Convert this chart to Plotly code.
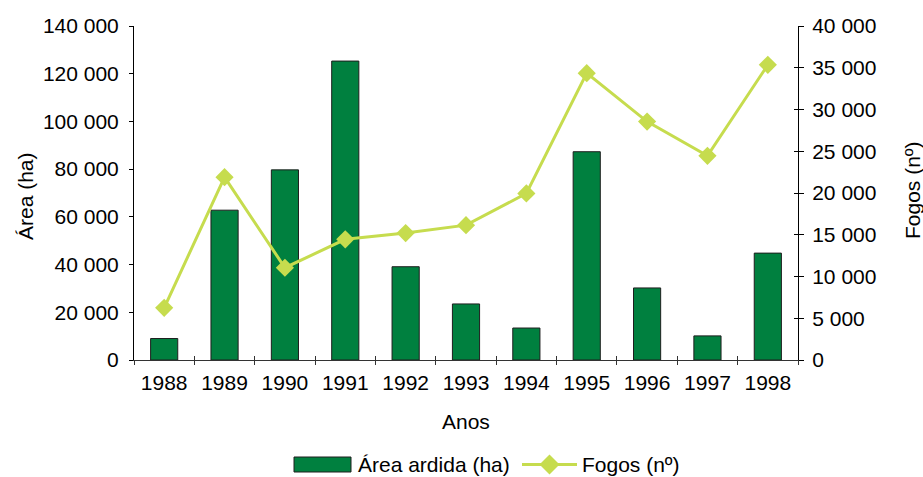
import plotly.graph_objects as go

# Burnt area (ha) and number of fires per year
anos = ["1988", "1989", "1990", "1991", "1992", "1993",
        "1994", "1995", "1996", "1997", "1998"]
area_ardida = [9000, 62800, 79700, 125300, 39100, 23500,
               13400, 87300, 30200, 10100, 44800]
fogos = [6250, 21900, 11050, 14450, 15200, 16150,
         19950, 34350, 28550, 24450, 35350]

area_ticks = [0, 20000, 40000, 60000, 80000, 100000, 120000, 140000]
fogos_ticks = [0, 5000, 10000, 15000, 20000, 25000, 30000, 35000, 40000]

BAR_GREEN = "#00803f"
LIME = "#c6dc4e"
FONT = "Liberation Sans, Arial, sans-serif"
FS = 21

W, H = 923, 477
ML, MR, MT, MB = 134, 125, 26, 117
PW, PH = W - ML - MR, H - MT - MB


def px(xp):
    return (xp - ML) / PW


def py(yp):
    return (H - MB - yp) / PH


fig = go.Figure()

fig.add_trace(go.Bar(
    x=anos, y=area_ardida, name="Área ardida (ha)",
    marker=dict(color=BAR_GREEN, line=dict(color="#1e1e1e", width=1)),
    width=0.45, showlegend=False,
))

fig.add_trace(go.Scatter(
    x=anos, y=fogos, name="Fogos (nº)", yaxis="y2",
    mode="lines+markers",
    line=dict(color=LIME, width=3),
    marker=dict(symbol="diamond", size=14, color=LIME),
    showlegend=False,
))

# empty helper traces so the overlay axes (inner tick marks) are drawn
fig.add_trace(go.Scatter(x=[], y=[], xaxis="x2", yaxis="y", showlegend=False))
fig.add_trace(go.Scatter(x=[], y=[], xaxis="x", yaxis="y3", showlegend=False))

tickfont = dict(family=FONT, size=FS, color="black")

fig.update_layout(
    width=W, height=H,
    margin=dict(l=ML, r=MR, t=MT, b=MB, pad=0),
    paper_bgcolor="white", plot_bgcolor="white",
    separators=", ",
    font=dict(family=FONT, size=FS, color="black"),
    xaxis=dict(
        type="category", categoryarray=anos, range=[-0.5, 10.5],
        showline=True, linecolor="#333333", linewidth=1,
        ticks="outside", ticklen=4, tickcolor="#333333",
        tickson="boundaries", showgrid=False, zeroline=False,
        tickfont=tickfont, ticklabelstandoff=4, automargin=False,
    ),
    xaxis2=dict(
        overlaying="x", range=[-0.5, 10.5], tick0=0.5, dtick=1,
        ticks="inside", ticklen=4, tickcolor="#333333",
        showticklabels=False, showline=False, showgrid=False,
        zeroline=False, anchor="y",
    ),
    yaxis=dict(
        range=[0, 140000], tickvals=area_ticks, tickformat=",d",
        showline=True, linecolor="black", linewidth=1,
        ticks="outside", ticklen=4, tickcolor="black",
        showgrid=False, zeroline=False, tickfont=tickfont,
        ticklabelstandoff=6, automargin=False,
    ),
    yaxis2=dict(
        overlaying="y", side="right", anchor="x",
        range=[0, 40000], tickvals=fogos_ticks, tickformat=",d",
        showline=True, linecolor="black", linewidth=1,
        ticks="outside", ticklen=5, tickcolor="black",
        showgrid=False, zeroline=False, tickfont=tickfont,
        ticklabelstandoff=4, automargin=False,
    ),
    yaxis3=dict(
        overlaying="y", side="right", anchor="x",
        range=[0, 40000], tickvals=fogos_ticks,
        ticks="inside", ticklen=4, tickcolor="black",
        showticklabels=False, showline=False, showgrid=False,
        zeroline=False,
    ),
    showlegend=False,
)

annotations = [
    dict(text="Área (ha)", x=px(25), y=py(196), textangle=-90),
    dict(text="Fogos (nº)", x=px(912), y=py(190), textangle=-90),
    dict(text="Anos", x=0.5, y=py(421)),
    dict(text="Área ardida (ha)", x=px(356), y=py(464), xanchor="left"),
    dict(text="Fogos (nº)", x=px(580), y=py(464), xanchor="left"),
]
for a in annotations:
    a.setdefault("xanchor", "center")
    fig.add_annotation(
        xref="paper", yref="paper", showarrow=False, yanchor="middle",
        font=dict(family=FONT, size=FS, color="black"), **a,
    )

# legend keys
fig.add_shape(type="rect", xref="paper", yref="paper",
              x0=px(294), x1=px(351), y0=py(472), y1=py(457),
              fillcolor=BAR_GREEN, line=dict(color="#1e1e1e", width=1))
fig.add_shape(type="line", xref="paper", yref="paper",
              x0=px(522), x1=px(577), y0=py(464.5), y1=py(464.5),
              line=dict(color=LIME, width=3))
cx, cy, r = 549.5, 464.5, 10
fig.add_shape(type="path", xref="paper", yref="paper",
              path=(f"M {px(cx - r)} {py(cy)} L {px(cx)} {py(cy - r)} "
                    f"L {px(cx + r)} {py(cy)} L {px(cx)} {py(cy + r)} Z"),
              fillcolor=LIME, line=dict(color=LIME, width=0))

fig.write_html("out.html")
